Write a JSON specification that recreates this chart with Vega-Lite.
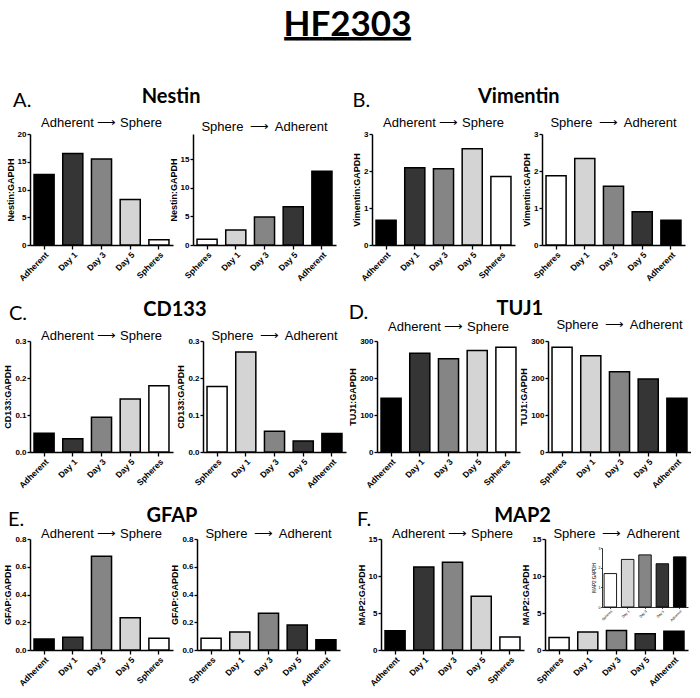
{
  "$schema": "https://vega.github.io/schema/vega-lite/v6.json",
  "padding": {"left": 3, "top": 8, "right": 0, "bottom": 0},
  "datasets": {
    "expr": [
      {"gene": "Nestin", "dir": "AS", "sample": "Adherent", "value": 12.7},
      {"gene": "Nestin", "dir": "AS", "sample": "Day 1", "value": 16.5},
      {"gene": "Nestin", "dir": "AS", "sample": "Day 3", "value": 15.5},
      {"gene": "Nestin", "dir": "AS", "sample": "Day 5", "value": 8.2},
      {"gene": "Nestin", "dir": "AS", "sample": "Spheres", "value": 0.95},
      {"gene": "Nestin", "dir": "SA", "sample": "Spheres", "value": 1.0},
      {"gene": "Nestin", "dir": "SA", "sample": "Day 1", "value": 2.6},
      {"gene": "Nestin", "dir": "SA", "sample": "Day 3", "value": 4.9},
      {"gene": "Nestin", "dir": "SA", "sample": "Day 5", "value": 6.7},
      {"gene": "Nestin", "dir": "SA", "sample": "Adherent", "value": 12.9},
      {"gene": "Vimentin", "dir": "AS", "sample": "Adherent", "value": 0.67},
      {"gene": "Vimentin", "dir": "AS", "sample": "Day 1", "value": 2.09},
      {"gene": "Vimentin", "dir": "AS", "sample": "Day 3", "value": 2.06},
      {"gene": "Vimentin", "dir": "AS", "sample": "Day 5", "value": 2.6},
      {"gene": "Vimentin", "dir": "AS", "sample": "Spheres", "value": 1.85},
      {"gene": "Vimentin", "dir": "SA", "sample": "Spheres", "value": 1.87},
      {"gene": "Vimentin", "dir": "SA", "sample": "Day 1", "value": 2.34},
      {"gene": "Vimentin", "dir": "SA", "sample": "Day 3", "value": 1.59},
      {"gene": "Vimentin", "dir": "SA", "sample": "Day 5", "value": 0.9},
      {"gene": "Vimentin", "dir": "SA", "sample": "Adherent", "value": 0.67},
      {"gene": "CD133", "dir": "AS", "sample": "Adherent", "value": 0.051},
      {"gene": "CD133", "dir": "AS", "sample": "Day 1", "value": 0.036},
      {"gene": "CD133", "dir": "AS", "sample": "Day 3", "value": 0.094},
      {"gene": "CD133", "dir": "AS", "sample": "Day 5", "value": 0.143},
      {"gene": "CD133", "dir": "AS", "sample": "Spheres", "value": 0.179},
      {"gene": "CD133", "dir": "SA", "sample": "Spheres", "value": 0.177},
      {"gene": "CD133", "dir": "SA", "sample": "Day 1", "value": 0.27},
      {"gene": "CD133", "dir": "SA", "sample": "Day 3", "value": 0.056},
      {"gene": "CD133", "dir": "SA", "sample": "Day 5", "value": 0.03},
      {"gene": "CD133", "dir": "SA", "sample": "Adherent", "value": 0.05},
      {"gene": "TUJ1", "dir": "AS", "sample": "Adherent", "value": 145},
      {"gene": "TUJ1", "dir": "AS", "sample": "Day 1", "value": 267},
      {"gene": "TUJ1", "dir": "AS", "sample": "Day 3", "value": 252},
      {"gene": "TUJ1", "dir": "AS", "sample": "Day 5", "value": 274},
      {"gene": "TUJ1", "dir": "AS", "sample": "Spheres", "value": 283},
      {"gene": "TUJ1", "dir": "SA", "sample": "Spheres", "value": 283},
      {"gene": "TUJ1", "dir": "SA", "sample": "Day 1", "value": 260},
      {"gene": "TUJ1", "dir": "SA", "sample": "Day 3", "value": 217},
      {"gene": "TUJ1", "dir": "SA", "sample": "Day 5", "value": 197},
      {"gene": "TUJ1", "dir": "SA", "sample": "Adherent", "value": 145},
      {"gene": "GFAP", "dir": "AS", "sample": "Adherent", "value": 0.079},
      {"gene": "GFAP", "dir": "AS", "sample": "Day 1", "value": 0.091},
      {"gene": "GFAP", "dir": "AS", "sample": "Day 3", "value": 0.676},
      {"gene": "GFAP", "dir": "AS", "sample": "Day 5", "value": 0.232},
      {"gene": "GFAP", "dir": "AS", "sample": "Spheres", "value": 0.084},
      {"gene": "GFAP", "dir": "SA", "sample": "Spheres", "value": 0.084},
      {"gene": "GFAP", "dir": "SA", "sample": "Day 1", "value": 0.13},
      {"gene": "GFAP", "dir": "SA", "sample": "Day 3", "value": 0.265},
      {"gene": "GFAP", "dir": "SA", "sample": "Day 5", "value": 0.18},
      {"gene": "GFAP", "dir": "SA", "sample": "Adherent", "value": 0.074},
      {"gene": "MAP2", "dir": "AS", "sample": "Adherent", "value": 2.6},
      {"gene": "MAP2", "dir": "AS", "sample": "Day 1", "value": 11.2},
      {"gene": "MAP2", "dir": "AS", "sample": "Day 3", "value": 11.87},
      {"gene": "MAP2", "dir": "AS", "sample": "Day 5", "value": 7.25},
      {"gene": "MAP2", "dir": "AS", "sample": "Spheres", "value": 1.75},
      {"gene": "MAP2", "dir": "SA", "sample": "Spheres", "value": 1.7},
      {"gene": "MAP2", "dir": "SA", "sample": "Day 1", "value": 2.42},
      {"gene": "MAP2", "dir": "SA", "sample": "Day 3", "value": 2.65},
      {"gene": "MAP2", "dir": "SA", "sample": "Day 5", "value": 2.2},
      {"gene": "MAP2", "dir": "SA", "sample": "Adherent", "value": 2.55}
    ]
  },
  "data": {"name": "expr"},
  "title": {
    "text": "HF2303",
    "subtitle": "━━━━━━━━━━",
    "font": "Lato", "fontSize": 35, "fontWeight": "bold", "color": "#000",
    "subtitleFont": "DejaVu Sans", "subtitleFontSize": 21, "subtitleColor": "#000", "subtitlePadding": -14,
    "anchor": "middle", "frame": "bounds", "offset": 37
  },
  "spacing": 16,
  "resolve": {"scale": {"fill": "independent", "x": "independent", "y": "independent"}},
  "vconcat": [
    {
      "spacing": 16,
      "resolve": {"scale": {"fill": "independent", "x": "independent", "y": "independent"}},
      "hconcat": [
        {
          "title": {"text": "A.", "anchor": "start", "frame": "bounds", "font": "Lato", "fontSize": 20, "fontWeight": "normal", "color": "#000", "offset": -24, "dx": 7},
          "resolve": {"scale": {"fill": "independent", "x": "independent", "y": "independent"}},
          "vconcat": [
            {
              "title": {"text": "Nestin", "anchor": "middle", "frame": "bounds", "font": "Lato", "fontSize": 20, "fontWeight": "bold", "color": "#000", "offset": 10},
              "spacing": -4,
              "resolve": {"scale": {"fill": "independent", "x": "independent", "y": "independent"}},
              "hconcat": [
                {
                  "width": 143, "height": 111, "title": {"text": "Adherent ⟶ Sphere", "offset": 0},
                  "transform": [{"filter": "datum.gene === 'Nestin' && datum.dir === 'AS'"}],
                  "mark": "bar",
                  "encoding": {
                    "x": {"field": "sample", "type": "nominal", "sort": ["Adherent", "Day 1", "Day 3", "Day 5", "Spheres"], "title": null},
                    "y": {"field": "value", "type": "quantitative", "title": "Nestin:GAPDH", "scale": {"domain": [0, 20], "nice": false}, "axis": {"values": [0, 5, 10, 15, 20]}},
                    "fill": {"field": "sample", "type": "nominal", "legend": null, "scale": {"domain": ["Adherent", "Day 1", "Day 3", "Day 5", "Spheres"], "range": ["#000000", "#353535", "#858585", "#d4d4d4", "#ffffff"]}}
                  }
                },
                {
                  "width": 143, "height": 111, "title": {"text": "Sphere\u2009 ⟶ \u2009Adherent", "offset": 0},
                  "transform": [{"filter": "datum.gene === 'Nestin' && datum.dir === 'SA'"}],
                  "mark": "bar",
                  "encoding": {
                    "x": {"field": "sample", "type": "nominal", "sort": ["Spheres", "Day 1", "Day 3", "Day 5", "Adherent"], "title": null},
                    "y": {"field": "value", "type": "quantitative", "title": "Nestin:GAPDH", "scale": {"domain": [0, 19.4], "nice": false}, "axis": {"values": [0, 5, 10, 15]}},
                    "fill": {"field": "sample", "type": "nominal", "legend": null, "scale": {"domain": ["Spheres", "Day 1", "Day 3", "Day 5", "Adherent"], "range": ["#ffffff", "#d4d4d4", "#858585", "#353535", "#000000"]}}
                  }
                }
              ]
            }
          ]
        },
        {
          "title": {"text": "B.", "anchor": "start", "frame": "bounds", "font": "Lato", "fontSize": 20, "fontWeight": "normal", "color": "#000", "offset": -24, "dx": 0},
          "resolve": {"scale": {"fill": "independent", "x": "independent", "y": "independent"}},
          "vconcat": [
            {
              "title": {"text": "Vimentin", "anchor": "middle", "frame": "bounds", "font": "Lato", "fontSize": 20, "fontWeight": "bold", "color": "#000", "offset": 10},
              "spacing": 7,
              "resolve": {"scale": {"fill": "independent", "x": "independent", "y": "independent"}},
              "hconcat": [
                {
                  "width": 143, "height": 111, "title": {"text": "Adherent ⟶ Sphere", "offset": 0},
                  "transform": [{"filter": "datum.gene === 'Vimentin' && datum.dir === 'AS'"}],
                  "mark": "bar",
                  "encoding": {
                    "x": {"field": "sample", "type": "nominal", "sort": ["Adherent", "Day 1", "Day 3", "Day 5", "Spheres"], "title": null},
                    "y": {"field": "value", "type": "quantitative", "title": "Vimentin:GAPDH", "scale": {"domain": [0, 3], "nice": false}, "axis": {"values": [0, 1, 2, 3]}},
                    "fill": {"field": "sample", "type": "nominal", "legend": null, "scale": {"domain": ["Adherent", "Day 1", "Day 3", "Day 5", "Spheres"], "range": ["#000000", "#353535", "#858585", "#d4d4d4", "#ffffff"]}}
                  }
                },
                {
                  "width": 143, "height": 111, "title": {"text": "Sphere\u2009 ⟶ \u2009Adherent", "offset": 0},
                  "transform": [{"filter": "datum.gene === 'Vimentin' && datum.dir === 'SA'"}],
                  "mark": "bar",
                  "encoding": {
                    "x": {"field": "sample", "type": "nominal", "sort": ["Spheres", "Day 1", "Day 3", "Day 5", "Adherent"], "title": null},
                    "y": {"field": "value", "type": "quantitative", "title": "Vimentin:GAPDH", "scale": {"domain": [0, 3], "nice": false}, "axis": {"values": [0, 1, 2, 3]}},
                    "fill": {"field": "sample", "type": "nominal", "legend": null, "scale": {"domain": ["Spheres", "Day 1", "Day 3", "Day 5", "Adherent"], "range": ["#ffffff", "#d4d4d4", "#858585", "#353535", "#000000"]}}
                  }
                }
              ]
            }
          ]
        }
      ]
    },
    {
      "spacing": 2,
      "resolve": {"scale": {"fill": "independent", "x": "independent", "y": "independent"}},
      "hconcat": [
        {
          "title": {"text": "C.", "anchor": "start", "frame": "bounds", "font": "Lato", "fontSize": 20, "fontWeight": "normal", "color": "#000", "offset": -24, "dx": 5},
          "resolve": {"scale": {"fill": "independent", "x": "independent", "y": "independent"}},
          "vconcat": [
            {
              "title": {"text": "CD133", "anchor": "middle", "frame": "bounds", "font": "Lato", "fontSize": 20, "fontWeight": "bold", "color": "#000", "offset": 10},
              "spacing": 3,
              "resolve": {"scale": {"fill": "independent", "x": "independent", "y": "independent"}},
              "hconcat": [
                {
                  "width": 143, "height": 111, "title": {"text": "Adherent ⟶ Sphere", "offset": -6},
                  "transform": [{"filter": "datum.gene === 'CD133' && datum.dir === 'AS'"}],
                  "mark": "bar",
                  "encoding": {
                    "x": {"field": "sample", "type": "nominal", "sort": ["Adherent", "Day 1", "Day 3", "Day 5", "Spheres"], "title": null},
                    "y": {"field": "value", "type": "quantitative", "title": "CD133:GAPDH", "scale": {"domain": [0, 0.3], "nice": false}, "axis": {"values": [0, 0.1, 0.2, 0.3], "format": ".1f"}},
                    "fill": {"field": "sample", "type": "nominal", "legend": null, "scale": {"domain": ["Adherent", "Day 1", "Day 3", "Day 5", "Spheres"], "range": ["#000000", "#353535", "#858585", "#d4d4d4", "#ffffff"]}}
                  }
                },
                {
                  "width": 143, "height": 111, "title": {"text": "Sphere\u2009 ⟶ \u2009Adherent", "offset": -6},
                  "transform": [{"filter": "datum.gene === 'CD133' && datum.dir === 'SA'"}],
                  "mark": "bar",
                  "encoding": {
                    "x": {"field": "sample", "type": "nominal", "sort": ["Spheres", "Day 1", "Day 3", "Day 5", "Adherent"], "title": null},
                    "y": {"field": "value", "type": "quantitative", "title": "CD133:GAPDH", "scale": {"domain": [0, 0.3], "nice": false}, "axis": {"values": [0, 0.1, 0.2, 0.3], "format": ".1f"}},
                    "fill": {"field": "sample", "type": "nominal", "legend": null, "scale": {"domain": ["Spheres", "Day 1", "Day 3", "Day 5", "Adherent"], "range": ["#ffffff", "#d4d4d4", "#858585", "#353535", "#000000"]}}
                  }
                }
              ]
            }
          ]
        },
        {
          "title": {"text": "D.", "anchor": "start", "frame": "bounds", "font": "Lato", "fontSize": 20, "fontWeight": "normal", "color": "#000", "offset": -24, "dx": 0},
          "resolve": {"scale": {"fill": "independent", "x": "independent", "y": "independent"}},
          "vconcat": [
            {
              "title": {"text": "TUJ1", "anchor": "middle", "frame": "bounds", "font": "Lato", "fontSize": 20, "fontWeight": "bold", "color": "#000", "offset": 0},
              "spacing": -1,
              "resolve": {"scale": {"fill": "independent", "x": "independent", "y": "independent"}},
              "hconcat": [
                {
                  "width": 143, "height": 111, "title": {"text": "Adherent ⟶ Sphere", "offset": 3},
                  "transform": [{"filter": "datum.gene === 'TUJ1' && datum.dir === 'AS'"}],
                  "mark": "bar",
                  "encoding": {
                    "x": {"field": "sample", "type": "nominal", "sort": ["Adherent", "Day 1", "Day 3", "Day 5", "Spheres"], "title": null},
                    "y": {"field": "value", "type": "quantitative", "title": "TUJ1:GAPDH", "scale": {"domain": [0, 300], "nice": false}, "axis": {"values": [0, 100, 200, 300]}},
                    "fill": {"field": "sample", "type": "nominal", "legend": null, "scale": {"domain": ["Adherent", "Day 1", "Day 3", "Day 5", "Spheres"], "range": ["#000000", "#353535", "#858585", "#d4d4d4", "#ffffff"]}}
                  }
                },
                {
                  "width": 143, "height": 111, "title": {"text": "Sphere\u2009 ⟶ \u2009Adherent", "offset": 5},
                  "transform": [{"filter": "datum.gene === 'TUJ1' && datum.dir === 'SA'"}],
                  "mark": "bar",
                  "encoding": {
                    "x": {"field": "sample", "type": "nominal", "sort": ["Spheres", "Day 1", "Day 3", "Day 5", "Adherent"], "title": null},
                    "y": {"field": "value", "type": "quantitative", "title": "TUJ1:GAPDH", "scale": {"domain": [0, 300], "nice": false}, "axis": {"values": [0, 100, 200, 300]}},
                    "fill": {"field": "sample", "type": "nominal", "legend": null, "scale": {"domain": ["Spheres", "Day 1", "Day 3", "Day 5", "Adherent"], "range": ["#ffffff", "#d4d4d4", "#858585", "#353535", "#000000"]}}
                  }
                }
              ]
            }
          ]
        }
      ]
    },
    {
      "spacing": 17,
      "resolve": {"scale": {"fill": "independent", "x": "independent", "y": "independent"}},
      "hconcat": [
        {
          "title": {"text": "E.", "anchor": "start", "frame": "bounds", "font": "Lato", "fontSize": 20, "fontWeight": "normal", "color": "#000", "offset": -24, "dx": 4},
          "resolve": {"scale": {"fill": "independent", "x": "independent", "y": "independent"}},
          "vconcat": [
            {
              "title": {"text": "GFAP", "anchor": "middle", "frame": "bounds", "font": "Lato", "fontSize": 20, "fontWeight": "bold", "color": "#000", "offset": 2},
              "spacing": -3,
              "resolve": {"scale": {"fill": "independent", "x": "independent", "y": "independent"}},
              "hconcat": [
                {
                  "width": 143, "height": 111, "title": {"text": "Adherent ⟶ Sphere", "offset": -6},
                  "transform": [{"filter": "datum.gene === 'GFAP' && datum.dir === 'AS'"}],
                  "mark": "bar",
                  "encoding": {
                    "x": {"field": "sample", "type": "nominal", "sort": ["Adherent", "Day 1", "Day 3", "Day 5", "Spheres"], "title": null},
                    "y": {"field": "value", "type": "quantitative", "title": "GFAP:GAPDH", "scale": {"domain": [0, 0.8], "nice": false}, "axis": {"values": [0, 0.2, 0.4, 0.6, 0.8], "format": ".1f"}},
                    "fill": {"field": "sample", "type": "nominal", "legend": null, "scale": {"domain": ["Adherent", "Day 1", "Day 3", "Day 5", "Spheres"], "range": ["#000000", "#353535", "#858585", "#d4d4d4", "#ffffff"]}}
                  }
                },
                {
                  "width": 143, "height": 111, "title": {"text": "Sphere\u2009 ⟶ \u2009Adherent", "offset": -6},
                  "transform": [{"filter": "datum.gene === 'GFAP' && datum.dir === 'SA'"}],
                  "mark": "bar",
                  "encoding": {
                    "x": {"field": "sample", "type": "nominal", "sort": ["Spheres", "Day 1", "Day 3", "Day 5", "Adherent"], "title": null},
                    "y": {"field": "value", "type": "quantitative", "title": "GFAP:GAPDH", "scale": {"domain": [0, 0.8], "nice": false}, "axis": {"values": [0, 0.2, 0.4, 0.6, 0.8], "format": ".1f"}},
                    "fill": {"field": "sample", "type": "nominal", "legend": null, "scale": {"domain": ["Spheres", "Day 1", "Day 3", "Day 5", "Adherent"], "range": ["#ffffff", "#d4d4d4", "#858585", "#353535", "#000000"]}}
                  }
                }
              ]
            }
          ]
        },
        {
          "title": {"text": "F.", "anchor": "start", "frame": "bounds", "font": "Lato", "fontSize": 20, "fontWeight": "normal", "color": "#000", "offset": -24, "dx": 0},
          "resolve": {"scale": {"fill": "independent", "x": "independent", "y": "independent"}},
          "vconcat": [
            {
              "title": {"text": "MAP2", "anchor": "middle", "frame": "bounds", "font": "Lato", "fontSize": 20, "fontWeight": "bold", "color": "#000", "offset": 2},
              "spacing": -3,
              "resolve": {"scale": {"fill": "independent", "x": "independent", "y": "independent"}},
              "hconcat": [
                {
                  "width": 143, "height": 111, "title": {"text": "Adherent ⟶ Sphere", "offset": -6},
                  "transform": [{"filter": "datum.gene === 'MAP2' && datum.dir === 'AS'"}],
                  "mark": "bar",
                  "encoding": {
                    "x": {"field": "sample", "type": "nominal", "sort": ["Adherent", "Day 1", "Day 3", "Day 5", "Spheres"], "title": null},
                    "y": {"field": "value", "type": "quantitative", "title": "MAP2:GAPDH", "scale": {"domain": [0, 15], "nice": false}, "axis": {"values": [0, 5, 10, 15]}},
                    "fill": {"field": "sample", "type": "nominal", "legend": null, "scale": {"domain": ["Adherent", "Day 1", "Day 3", "Day 5", "Spheres"], "range": ["#000000", "#353535", "#858585", "#d4d4d4", "#ffffff"]}}
                  }
                },
                {
                  "width": 143, "height": 111, "title": {"text": "Sphere\u2009 ⟶ \u2009Adherent", "offset": -6},
                  "resolve": {"scale": {"x": "independent", "y": "independent", "fill": "independent"}, "axis": {"x": "independent", "y": "independent"}},
                  "layer": [
                    {
                      "transform": [{"filter": "datum.gene === 'MAP2' && datum.dir === 'SA'"}],
                      "mark": "bar",
                      "encoding": {
                        "x": {"field": "sample", "type": "nominal", "sort": ["Spheres", "Day 1", "Day 3", "Day 5", "Adherent"], "title": null},
                        "y": {"field": "value", "type": "quantitative", "title": "MAP2:GAPDH", "scale": {"domain": [0, 15], "nice": false}, "axis": {"values": [0, 5, 10, 15]}},
                        "fill": {"field": "sample", "type": "nominal", "legend": null, "scale": {"domain": ["Spheres", "Day 1", "Day 3", "Day 5", "Adherent"], "range": ["#ffffff", "#d4d4d4", "#858585", "#353535", "#000000"]}}
                      }
                    },
                    {
                      "transform": [{"filter": "datum.gene === 'MAP2' && datum.dir === 'SA'"}],
                      "mark": {"type": "bar", "strokeWidth": 0.9},
                      "encoding": {
                        "x": {"field": "sample", "type": "nominal", "sort": ["Spheres", "Day 1", "Day 3", "Day 5", "Adherent"], "title": null,
                              "scale": {"range": [57, 143], "paddingInner": 0.28, "paddingOuter": 0.12},
                              "axis": {"orient": "bottom", "offset": -43, "labelFontSize": 3.5, "labelFontWeight": "normal", "tickSize": 1.5, "tickWidth": 0.7, "domainWidth": 0.8, "labelPadding": 0.5}},
                        "y": {"field": "value", "type": "quantitative", "title": "MAP2:GAPDH",
                              "scale": {"domain": [0, 3], "nice": false, "range": [68, 9]},
                              "axis": {"orient": "left", "offset": -57, "values": [0, 1, 2, 3], "labelFontSize": 3.5, "labelFontWeight": "normal", "titleFontSize": 4.5, "titleFontWeight": "normal", "tickSize": 1.5, "tickWidth": 0.7, "domainWidth": 0.8, "labelPadding": 0.5, "titlePadding": 2}},
                        "fill": {"field": "sample", "type": "nominal", "legend": null, "scale": {"domain": ["Spheres", "Day 1", "Day 3", "Day 5", "Adherent"], "range": ["#ffffff", "#d4d4d4", "#858585", "#353535", "#000000"]}}
                      }
                    }
                  ]
                }
              ]
            }
          ]
        }
      ]
    }
  ],
  "config": {
    "view": {"stroke": null},
    "bar": {"stroke": "#000000", "strokeWidth": 1.5},
    "scale": {"bandPaddingInner": 0.3, "bandPaddingOuter": 0.14},
    "axis": {
      "grid": false,
      "domainColor": "#000000", "domainWidth": 1.5,
      "tickColor": "#000000", "tickWidth": 1.3, "tickSize": 3,
      "labelColor": "#000000", "labelFont": "Liberation Sans", "labelFontWeight": "bold", "labelFontSize": 8, "labelPadding": 1,
      "titleColor": "#000000", "titleFont": "Liberation Sans", "titleFontWeight": "bold", "titleFontSize": 9, "titlePadding": 2
    },
    "axisX": {"labelAngle": -45, "labelFontSize": 8.5, "tickSize": 4},
    "title": {"font": "Liberation Sans", "fontSize": 13, "fontWeight": "normal", "color": "#000000", "anchor": "middle", "frame": "group", "offset": 2}
  }
}
